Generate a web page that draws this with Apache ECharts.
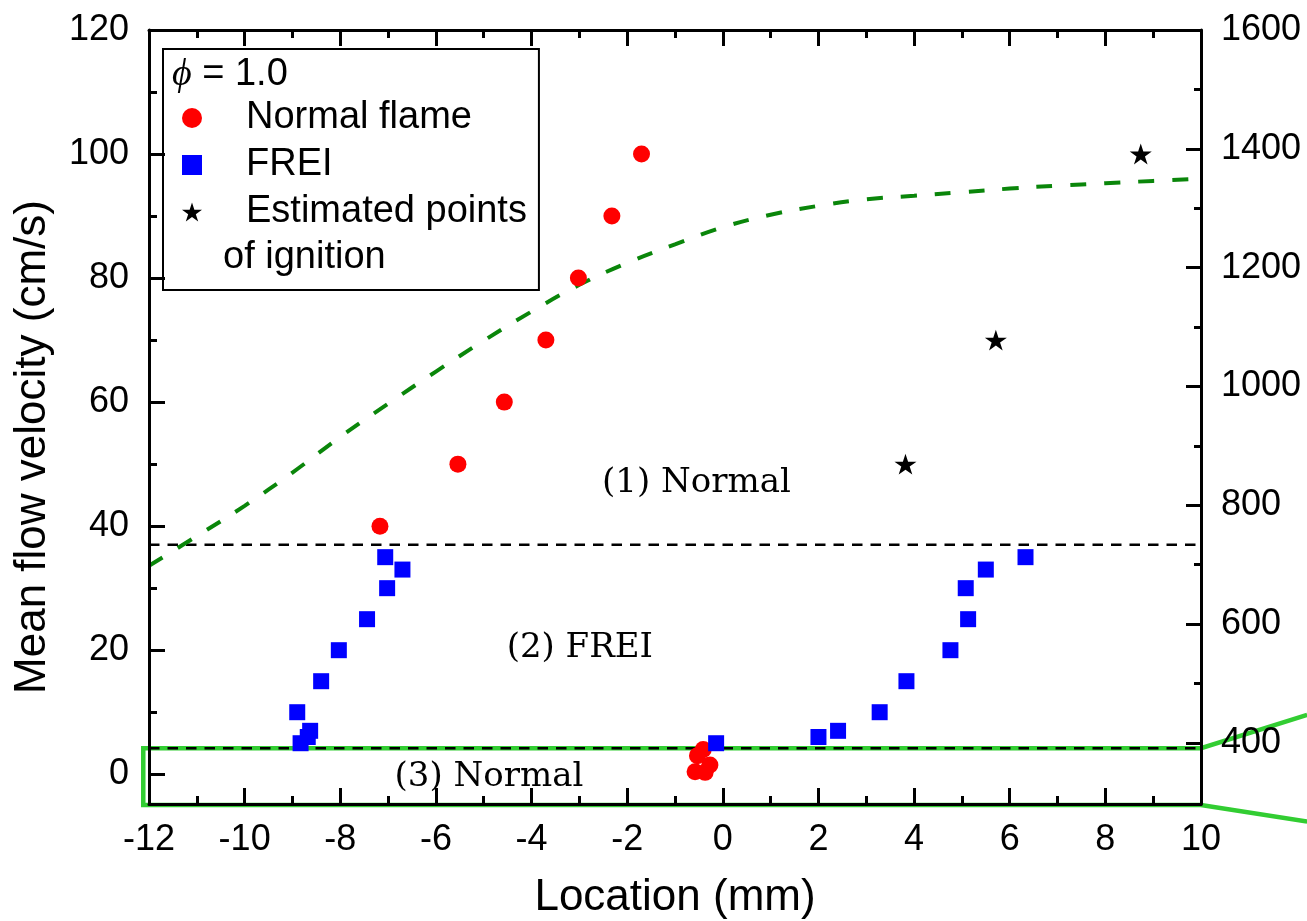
<!DOCTYPE html>
<html>
<head>
<meta charset="utf-8">
<script src="https://cdn.jsdelivr.net/npm/echarts@6/dist/echarts.min.js"></script>
<style>
  html, body { margin: 0; padding: 0; background: #fff; }
  #chart { width: 1307px; height: 921px; }
</style>
</head>
<body>
<div id="chart"></div>
<script>
// Normal flame: location (mm) and mean flow velocity (cm/s)
const normalX = [-7.17, -5.54, -4.57, -3.70, -3.02, -2.32, -1.70, -0.53, -0.41, -0.27, -0.58, -0.37];
const normalY = [40, 50, 60, 70, 80, 90, 100, 3.0, 4.0, 1.5, 0.4, 0.3];

// FREI
const freiX = [-8.83, -8.68, -8.63, -8.90, -8.40, -8.03, -7.44, -7.02, -6.70, -7.06,
               -0.14, 2.00, 2.41, 3.28, 3.84, 4.76, 5.13, 5.08, 5.50, 6.33];
const freiY = [5, 6, 7, 10, 15, 20, 25, 30, 33, 35,
               5, 6, 7, 10, 15, 20, 25, 30, 33, 35];

// Estimated points of ignition
const ignX = [3.82, 5.71, 8.74];
const ignY = [50, 70, 100];

// Wall temperature profile (right axis)
const profileX = [-12, -11, -10, -9, -8, -7, -6, -5, -4, -3, -2, -1, 0, 1, 2, 3, 4, 5, 6, 7, 8, 9, 10];
const profileT = [698, 748, 799, 855, 915, 971, 1025, 1077, 1126, 1171, 1208, 1239, 1268, 1289, 1304, 1315, 1321, 1327, 1333, 1338, 1342, 1346, 1350];

// Regime boundaries (cm/s)
const boundaryFrei = 37;
const boundaryLow = 4.2;

// Outline of the magnified band, continuing past the right edge
const insetX = [12.22, 10, -12.12, -12.12, 10, 12.22];
const insetY = [9.56, 4.2, 4.2, -4.95, -4.95, -7.64];

// Regime labels
const regionText = ['(1) Normal', '(2) FREI', '(3) Normal'];
const regionX = [-0.55, -2.99, -4.89];
const regionY = [46.9, 20.4, -0.5];

// Axis ranges and ticks
const xMin = -12, xMax = 10, xStep = 2;
const vMin = -4.8, vMax = 120;
const tMin = 297, tMax = 1600;
const leftLabels = [0, 20, 40, 60, 80, 100, 120];
const leftMinor = [10, 30, 50, 70, 90, 110];
const rightLabels = [400, 600, 800, 1000, 1200, 1400, 1600];
const rightMinor = [500, 700, 900, 1100, 1300, 1500];

const nameNormal = 'Normal flame';
const nameFrei = 'FREI';
const nameIgn = 'Estimated points of ignition';

const starPath = 'path://M50 0L61.23 34.55L97.55 34.55L68.17 55.9L79.39 90.45L50 69.1L20.61 90.45L31.83 55.9L2.45 34.55L38.77 34.55Z';
const zip = (xs, ys) => xs.map((x, i) => [x, ys[i]]);

const SANS = 'Liberation Sans';
const axisLineStyle = { color: '#000', width: 3 };
const tickStyle = { color: '#000', width: 3 };
const labelStyle = { fontFamily: SANS, fontSize: 36, color: '#000', formatter: v => String(v) };

function xAxisDef(pos, withLabels) {
  return {
    type: 'value', min: xMin, max: xMax, interval: xStep, position: pos, z: 5,
    axisLine: { show: true, onZero: false, lineStyle: axisLineStyle },
    axisTick: { show: true, inside: true, length: 16, lineStyle: tickStyle },
    minorTick: { show: true, splitNumber: 2, length: 8, lineStyle: tickStyle },
    splitLine: { show: false },
    axisLabel: withLabels ? Object.assign({ margin: 18 }, labelStyle) : { show: false }
  };
}

function yAxisDef(pos, min, max, labels, len, showLine) {
  return {
    type: 'value', min: min, max: max, position: pos, z: 5,
    axisLine: { show: showLine, onZero: false, lineStyle: axisLineStyle },
    axisTick: { show: true, inside: true, length: len, customValues: labels, lineStyle: tickStyle },
    splitLine: { show: false },
    axisLabel: showLine ? Object.assign({ margin: 20, customValues: labels }, labelStyle) : { show: false }
  };
}

const chart = echarts.init(document.getElementById('chart'));

const xBottom = xAxisDef('bottom', true);
xBottom.name = 'Location (mm)';
xBottom.nameLocation = 'middle';
xBottom.nameGap = 72;
xBottom.nameTextStyle = { fontFamily: SANS, fontSize: 44, color: '#000' };

const yLeft = yAxisDef('left', vMin, vMax, leftLabels, 16, true);
yLeft.name = 'Mean flow velocity (cm/s)';
yLeft.nameLocation = 'middle';
yLeft.nameGap = 94;
yLeft.nameTextStyle = { fontFamily: SANS, fontSize: 44, color: '#000', padding: [0, 60, 0, 0] };

const option = {
  animation: false,
  backgroundColor: '#fff',
  grid: { left: 149, right: 106, top: 30, bottom: 117, containLabel: false, outerBoundsMode: 'none' },
  xAxis: [xBottom, xAxisDef('top', false)],
  yAxis: [
    yLeft,
    yAxisDef('right', tMin, tMax, rightLabels, 15, true),
    yAxisDef('left', vMin, vMax, leftMinor, 8, false),
    yAxisDef('right', tMin, tMax, rightMinor, 7, false)
  ],
  legend: {
    data: [nameNormal, nameFrei, nameIgn],
    orient: 'vertical',
    left: 163, top: 49,
    padding: [46.5, 12, 55.5, 19],
    itemGap: 2,
    itemWidth: 20, itemHeight: 20,
    borderColor: '#000', borderWidth: 2, backgroundColor: '#fff',
    selectedMode: false,
    formatter: n => (n === nameIgn ? 'Estimated points' : n),
    textStyle: { fontFamily: SANS, fontSize: 38, color: '#000', lineHeight: 45, padding: [0, 0, 0, 39] }
  },
  series: [
    {
      name: 'boundary-frei', type: 'line', data: [[xMin, boundaryFrei], [xMax, boundaryFrei]], symbol: 'none', silent: true, z: 3,
      lineStyle: { color: '#000', width: 2.5, type: [10.5, 8] }
    },
    {
      name: 'boundary-low', type: 'line', data: [[xMin, boundaryLow], [xMax, boundaryLow]], symbol: 'none', silent: true, z: 3,
      lineStyle: { color: '#000', width: 2.5, type: [10.5, 8] }
    },
    {
      name: 'profile', type: 'line', yAxisIndex: 1, data: zip(profileX, profileT), symbol: 'none', smooth: 0.4, silent: true, z: 3,
      lineStyle: { color: '#0a860a', width: 4, type: [16, 18] }
    },
    {
      name: nameNormal, type: 'scatter', data: zip(normalX, normalY), symbol: 'circle', symbolSize: 17, z: 4,
      itemStyle: { color: '#ff0000', opacity: 1 }
    },
    {
      name: nameFrei, type: 'scatter', data: zip(freiX, freiY), symbol: 'rect', symbolSize: 16, z: 5,
      itemStyle: { color: '#0000ff', opacity: 1 }
    },
    {
      name: nameIgn, type: 'scatter', data: zip(ignX, ignY), symbol: starPath, symbolKeepAspect: true, symbolSize: 22, z: 5,
      itemStyle: { color: '#000', opacity: 1 }
    },
    {
      name: 'regions', type: 'scatter', data: zip(regionX, regionY), symbolSize: 1, silent: true, z: 5,
      itemStyle: { color: 'rgba(0,0,0,0)', opacity: 1 },
      label: {
        show: true, position: 'inside', opacity: 1,
        formatter: p => regionText[p.dataIndex],
        fontFamily: 'DejaVu Serif', fontSize: 34, color: '#000'
      }
    }
  ]
};

chart.setOption(option);

// Legend heading, second line of the last legend entry, and the outline of
// the magnified band (placed through the grid's own coordinate conversion).
const insetPoints = zip(insetX, insetY).map(p => chart.convertToPixel({ xAxisIndex: 0, yAxisIndex: 0 }, p));
chart.setOption({
  graphic: [
    {
      id: 'phi', type: 'text', x: 172, y: 75, z: 100,
      style: {
        text: '{p|ϕ} = 1.0',
        fontFamily: SANS, fontSize: 38, fill: '#000', verticalAlign: 'middle',
        rich: { p: { fontFamily: 'Liberation Serif', fontStyle: 'italic', fontSize: 38, fill: '#000' } }
      }
    },
    {
      id: 'ign2', type: 'text', x: 223, y: 258, z: 100,
      style: { text: 'of ignition', fontFamily: SANS, fontSize: 38, fill: '#000', verticalAlign: 'middle' }
    },
    {
      id: 'inset', type: 'polyline', z: 1, silent: true,
      shape: { points: insetPoints },
      style: { stroke: '#32cd32', lineWidth: 4.5, fill: null }
    }
  ]
});
</script>
</body>
</html>
